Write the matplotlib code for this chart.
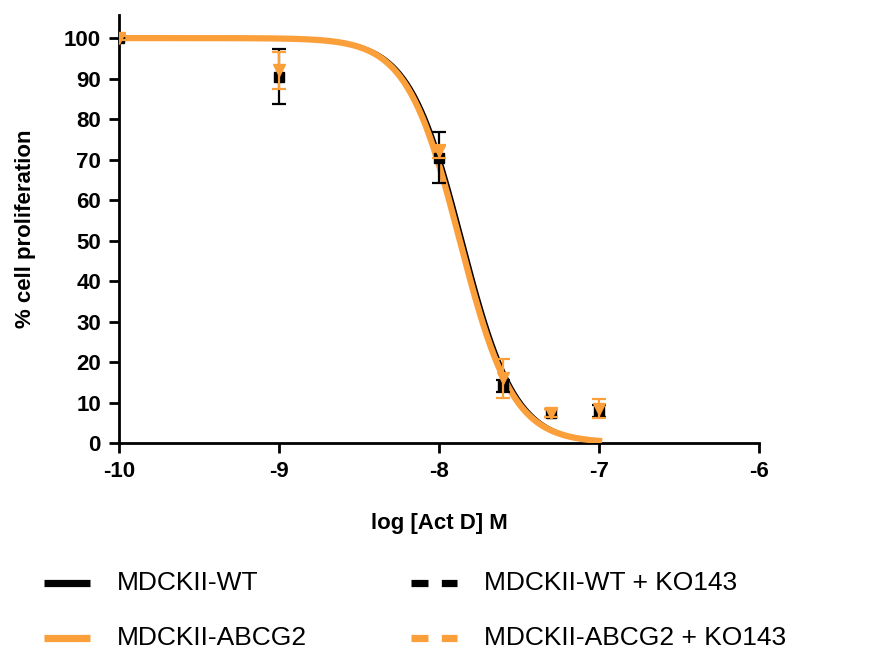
import numpy as np
import matplotlib
matplotlib.use("Agg")
import matplotlib.pyplot as plt
from matplotlib.lines import Line2D

plt.rcParams["font.family"] = ["Liberation Sans", "DejaVu Sans"]
plt.rcParams["axes.unicode_minus"] = False

# log [Act D] M doses
log_dose = [-10, -9, -8, -7.6, -7.3, -7]

wt_mean = [100, 90.5, 70.5, 14, 7.5, 8]
wt_err = [0.5, 6.8, 6.3, 1.5, 1.0, 1.5]

abcg2_mean = [100, 92, 72, 16, 7.5, 8.5]
abcg2_err = [0.5, 4.5, 1.5, 4.8, 1.0, 2.3]

# fitted sigmoid parameters (top, bottom, logIC50, hill)
wt_fit = (100, 0, -7.85, 2.62)
abcg2_fit = (100, 0, -7.87, 2.62)

ORANGE = "#fb9f3b"

legend_labels = ["MDCKII-WT", "MDCKII-WT + KO143",
                 "MDCKII-ABCG2", "MDCKII-ABCG2 + KO143"]
legend_colors = ["black", "black", ORANGE, ORANGE]
legend_dashed = [False, True, False, True]


def sigmoid(x, top, bottom, logic50, hill):
    return bottom + (top - bottom) / (1 + 10 ** ((x - logic50) * hill))


W, H = 880, 652
fig = plt.figure(figsize=(W / 100, H / 100), dpi=100)
ax = fig.add_axes([119 / W, 1 - 443 / H, 640 / W, 428 / H])

xs = np.linspace(-10, -7, 400)
ax.plot(xs, sigmoid(xs, *wt_fit), color="black", lw=2.2, zorder=3)
ax.plot(xs, sigmoid(xs, *abcg2_fit), color=ORANGE, lw=4.5, zorder=4)

ax.errorbar(log_dose, wt_mean, yerr=wt_err, fmt="s", color="black",
            ms=7, capsize=5, elinewidth=1.6, capthick=1.6, zorder=5)
ax.errorbar(log_dose, abcg2_mean, yerr=abcg2_err, fmt="v", color=ORANGE,
            ms=8, capsize=5, elinewidth=1.6, capthick=1.6, zorder=6)

ax.set_xlim(-10, -6)
ax.set_ylim(0, 105.7)
ax.set_xticks([-10, -9, -8, -7, -6])
ax.set_yticks(range(0, 101, 10))
for s in ["top", "right"]:
    ax.spines[s].set_visible(False)
for s in ["left", "bottom"]:
    ax.spines[s].set_linewidth(2)
ax.tick_params(width=2, length=7, labelsize=16, pad=6)
for lab in ax.get_xticklabels() + ax.get_yticklabels():
    lab.set_fontweight("bold")

ax.set_xlabel("log [Act D] M", fontsize=16, fontweight="bold", labelpad=22)
ax.set_ylabel("% cell proliferation", fontsize=16, fontweight="bold", labelpad=20)

# legend drawn by hand, two columns x two rows
col_x = [44, 411]
row_y = [583, 638]
for i, (lab, c, dashed) in enumerate(zip(legend_labels, legend_colors, legend_dashed)):
    x0 = col_x[i % 2]
    y0 = 1 - row_y[i // 2] / H
    ln = Line2D([x0 / W, (x0 + 46) / W], [y0, y0], transform=fig.transFigure,
                color=c, lw=5.2, solid_capstyle="butt", dash_capstyle="butt")
    if dashed:
        ln.set_dashes([2.35, 1.85])
    fig.add_artist(ln)
    fig.text((x0 + 73) / W, y0, lab, fontsize=19, va="center", ha="left")

fig.savefig("out.png", dpi=100)
